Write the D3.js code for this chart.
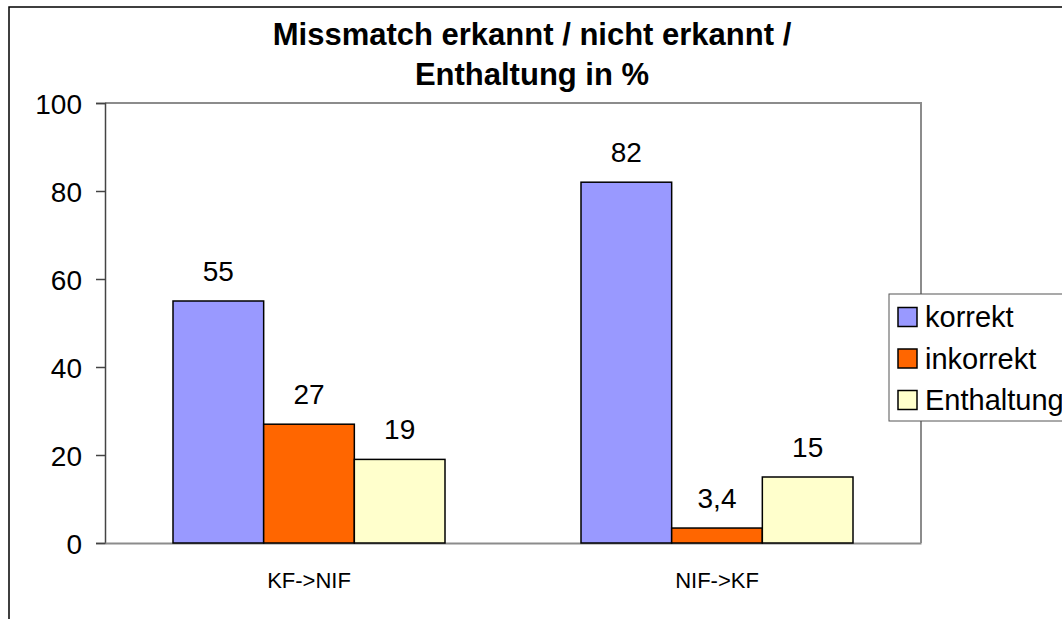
<!DOCTYPE html>
<html>
<head>
<meta charset="utf-8">
<script src="https://cdn.jsdelivr.net/npm/d3@7"></script>
<style>
  body { margin: 0; background: #fff; }
  text { font-family: Arial, "Liberation Sans", sans-serif; fill: #000; }
</style>
</head>
<body>
<script>
// Data
var categories = ['KF->NIF', 'NIF->KF'];
var seriesNames = ['korrekt', 'inkorrekt', 'Enthaltung'];
var korrekt = [55, 82];
var inkorrekt = [27, 3.4];
var enthaltung = [19, 15];
var yTicks = [0, 20, 40, 60, 80, 100];
var titleLines = ['Missmatch erkannt / nicht erkannt /', 'Enthaltung in %'];

var colors = ['#9999ff', '#ff6600', '#ffffcc'];
var values = [korrekt, inkorrekt, enthaltung];

// Layout of the plot area (window.top is reserved, so prefixed names)
var W = 1062, H = 619;
var plotLeft = 105, plotRight = 921, plotTop = 103, plotBottom = 543;

var svg = d3.select('body').append('svg')
    .attr('width', W)
    .attr('height', H);

// outer chart border (runs off the right and bottom of the picture)
svg.append('rect')
    .attr('x', 9).attr('y', 7)
    .attr('width', W + 20).attr('height', H + 20)
    .attr('fill', '#fff')
    .attr('stroke', '#000')
    .attr('stroke-width', 1.5);

var x0 = d3.scaleBand()
    .domain(categories)
    .range([plotLeft, plotRight])
    .paddingInner(1 / 3)
    .paddingOuter(1 / 6);

var x1 = d3.scaleBand()
    .domain(seriesNames)
    .range([0, x0.bandwidth()]);

var y = d3.scaleLinear()
    .domain([0, 100])
    .range([plotBottom, plotTop]);

// plot area frame: top and right in grey
svg.append('path')
    .attr('d', 'M' + plotLeft + ',' + plotTop + 'H' + plotRight + 'V' + plotBottom)
    .attr('fill', 'none')
    .attr('stroke', '#8c8c8c')
    .attr('stroke-width', 2);

// y axis
var yAxis = svg.append('g')
    .attr('transform', 'translate(' + plotLeft + ',0)')
    .call(d3.axisLeft(y).tickValues(yTicks).tickSize(9).tickPadding(14).tickFormat(d3.format('d')));
yAxis.select('.domain').attr('stroke', '#444').attr('stroke-width', 1.5);
yAxis.selectAll('.tick line').attr('stroke', '#444').attr('stroke-width', 1.5);
yAxis.selectAll('.tick text')
    .style('font-size', '28px')
    .attr('dy', '0.36em');

// x axis
var xAxis = svg.append('g')
    .attr('transform', 'translate(0,' + plotBottom + ')')
    .call(d3.axisBottom(x0).tickSize(0).tickPadding(0));
xAxis.select('.domain').attr('stroke', '#8c8c8c').attr('stroke-width', 2);
xAxis.selectAll('.tick text')
    .style('font-size', '22px')
    .attr('y', 45)
    .attr('dy', 0);

// bars
var groups = svg.selectAll('g.group')
    .data(categories)
    .enter().append('g')
    .attr('class', 'group')
    .attr('transform', function (d) { return 'translate(' + x0(d) + ',0)'; });

groups.selectAll('rect')
    .data(function (d, i) {
        return seriesNames.map(function (s, j) { return { s: s, v: values[j][i], c: colors[j] }; });
    })
    .enter().append('rect')
    .attr('x', function (d) { return x1(d.s); })
    .attr('y', function (d) { return y(d.v); })
    .attr('width', x1.bandwidth())
    .attr('height', function (d) { return y(0) - y(d.v); })
    .attr('fill', function (d) { return d.c; })
    .attr('stroke', '#000')
    .attr('stroke-width', 1.5);

groups.selectAll('text.val')
    .data(function (d, i) {
        return seriesNames.map(function (s, j) { return { s: s, v: values[j][i] }; });
    })
    .enter().append('text')
    .attr('class', 'val')
    .attr('x', function (d) { return x1(d.s) + x1.bandwidth() / 2; })
    .attr('y', function (d) { return y(d.v) - 20; })
    .attr('text-anchor', 'middle')
    .style('font-size', '28px')
    .text(function (d) { return String(d.v).replace('.', ','); });

// title
svg.selectAll('text.title')
    .data(titleLines)
    .enter().append('text')
    .attr('class', 'title')
    .attr('x', 532)
    .attr('y', function (d, i) { return 45 + i * 40; })
    .attr('text-anchor', 'middle')
    .style('font-size', '31px')
    .style('font-weight', 'bold')
    .text(function (d) { return d; });

// legend
var legend = svg.append('g').attr('transform', 'translate(889,294)');
legend.append('rect')
    .attr('width', 200).attr('height', 127)
    .attr('fill', '#fff')
    .attr('stroke', '#555')
    .attr('stroke-width', 1);

var item = legend.selectAll('g.item')
    .data(seriesNames)
    .enter().append('g')
    .attr('class', 'item')
    .attr('transform', function (d, i) { return 'translate(9,' + (23 + i * 41.5) + ')'; });

item.append('rect')
    .attr('x', 0).attr('y', -9.5)
    .attr('width', 19).attr('height', 19)
    .attr('fill', function (d, i) { return colors[i]; })
    .attr('stroke', '#000')
    .attr('stroke-width', 1.5);

item.append('text')
    .attr('x', 27)
    .attr('dy', '0.36em')
    .style('font-size', '29px')
    .text(function (d) { return d; });
</script>
</body>
</html>
